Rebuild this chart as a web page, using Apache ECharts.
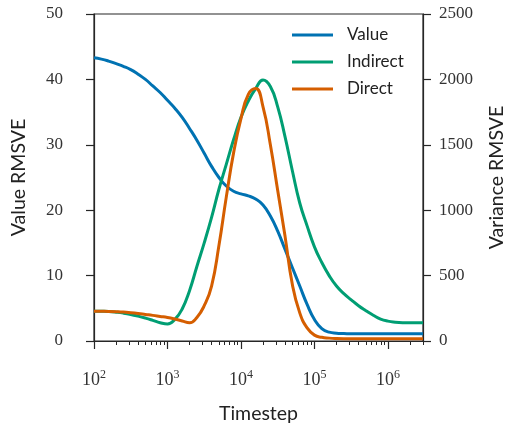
<!DOCTYPE html>
<html>
<head>
<meta charset="utf-8">
<script src="https://cdn.jsdelivr.net/npm/echarts@6/dist/echarts.min.js"></script>
<style>
html,body{margin:0;padding:0;background:#fff;}
#c{width:509px;height:424px;}
</style>
</head>
<body>
<div id="c"></div>
<script>
// Timesteps (x values, log axis)
const timesteps = [100, 126, 158, 200, 251, 316, 398, 501, 631, 794,
  1000, 1259, 1585, 1995, 2512, 3162, 3981, 5012, 6310, 7943,
  10000, 12589, 15849, 19953, 25119, 31623, 39811, 50119, 63096, 79433,
  100000, 125893, 158489, 199526, 251189, 316228, 398107, 501187, 630957, 794328,
  1000000, 1258925, 1584893, 1995262, 2511886, 3000000];

// Value RMSVE (left axis)
const valueSeries = [43.3, 43.1, 42.8, 42.4, 42.0, 41.5, 40.8, 40.0, 39.0, 38.0,
  36.8, 35.6, 34.2, 32.5, 30.7, 28.7, 26.7, 25.0, 23.7, 22.9,
  22.5, 22.2, 21.7, 20.8, 19.1, 16.8, 14.0, 11.2, 8.4, 5.6,
  3.3, 1.9, 1.35, 1.2, 1.15, 1.1, 1.1, 1.1, 1.1, 1.1,
  1.1, 1.1, 1.1, 1.1, 1.1, 1.1];

// Variance RMSVE (right axis)
const indirectSeries = [228, 227, 225, 220, 213, 203, 190, 175, 158, 140,
  130, 165, 245, 385, 570, 750, 945, 1160, 1350, 1540,
  1710, 1835, 1930, 1995, 1945, 1790, 1560, 1300, 1055, 880,
  720, 600, 500, 420, 362, 315, 270, 232, 197, 168,
  152, 144, 140, 139, 139, 139];

const directSeries = [228, 227, 226, 224, 221, 216, 210, 203, 196, 188,
  180, 168, 153, 140, 180, 270, 420, 730, 1100, 1440,
  1700, 1885, 1930, 1790, 1500, 1150, 800, 430, 215, 100,
  45, 28, 22, 19, 18, 18, 18, 18, 18, 18,
  18, 18, 18, 18, 18, 18];

const majorTicks = [100, 1000, 10000, 100000, 1000000];
const minorTicks = [200, 300, 400, 500, 600, 700, 800, 900,
  2000, 3000, 4000, 5000, 6000, 7000, 8000, 9000,
  20000, 30000, 40000, 50000, 60000, 70000, 80000, 90000,
  200000, 300000, 400000, 500000, 600000, 700000, 800000, 900000,
  2000000, 3000000];

function pairs(ys) { return timesteps.map((t, i) => [t, ys[i]]); }

const serif = 'Liberation Serif';
const sans = 'Lato';
const axisColor = '#262626';
const gridH = 327;

const chart = echarts.init(document.getElementById('c'), null, {renderer: 'canvas'});
chart.setOption({
  animation: false,
  backgroundColor: '#fff',
  grid: {left: 94, top: 14, width: 329, height: gridH, show: true, borderColor: axisColor, borderWidth: 1.2,
    backgroundColor: 'transparent', containLabel: false, outerBoundsMode: 'none'},
  legend: {
    orient: 'vertical', left: 292, top: 25, padding: 0,
    icon: 'rect', itemWidth: 41, itemHeight: 3, itemGap: 7,
    textStyle: {fontFamily: sans, fontSize: 17, color: '#222', padding: [0, 0, 0, 9], lineHeight: 20},
    data: ['Value', 'Indirect', 'Direct']
  },
  xAxis: [{
    type: 'log', logBase: 10, min: 100, max: 3000000, position: 'bottom',
    name: 'Timestep', nameLocation: 'middle', nameGap: 63,
    nameTextStyle: {fontFamily: sans, fontSize: 19.5, color: '#222'},
    axisLine: {show: true, lineStyle: {color: axisColor, width: 1.2}},
    axisTick: {show: true, inside: false, length: 8, customValues: majorTicks, lineStyle: {color: axisColor, width: 1.2}},
    axisLabel: {
      customValues: majorTicks, margin: 28, color: '#333',
      formatter: function (v) { return '{b|10}{s|' + Math.round(Math.log10(v)) + '}'; },
      rich: {
        b: {fontFamily: serif, fontSize: 18, color: '#333', lineHeight: 20, verticalAlign: 'bottom'},
        s: {fontFamily: serif, fontSize: 12, color: '#333', lineHeight: 20, verticalAlign: 'top', padding: [0, 0, 6, 0]}
      }
    },
    splitLine: {show: false}
  }, {
    type: 'log', logBase: 10, min: 100, max: 3000000, position: 'top', offset: -gridH,
    axisLine: {show: false},
    axisTick: {show: true, inside: true, length: 4, customValues: minorTicks, lineStyle: {color: axisColor, width: 1}},
    axisLabel: {show: false},
    splitLine: {show: false}
  }],
  yAxis: [{
    type: 'value', min: 0, max: 50, interval: 10, position: 'left',
    name: 'Value RMSVE', nameLocation: 'middle', nameGap: 65, nameRotate: 90,
    nameTextStyle: {fontFamily: sans, fontSize: 19.5, color: '#222'},
    axisLine: {show: true, lineStyle: {color: axisColor, width: 1.2}},
    axisTick: {show: true, inside: false, length: 8, lineStyle: {color: axisColor, width: 1.2}},
    axisLabel: {fontFamily: serif, fontSize: 17, color: '#333', margin: 31},
    splitLine: {show: false}
  }, {
    type: 'value', min: 0, max: 2500, interval: 500, position: 'right',
    name: 'Variance RMSVE', nameLocation: 'middle', nameGap: 64, nameRotate: 90,
    nameTextStyle: {fontFamily: sans, fontSize: 19.5, color: '#222'},
    axisLine: {show: true, lineStyle: {color: axisColor, width: 1.2}},
    axisTick: {show: true, inside: false, length: 8, lineStyle: {color: axisColor, width: 1.2}},
    axisLabel: {fontFamily: serif, fontSize: 17, color: '#333', margin: 16, formatter: function (v) { return String(v); }},
    splitLine: {show: false}
  }],
  series: [{
    name: 'Value', type: 'line', xAxisIndex: 0, yAxisIndex: 0,
    data: pairs(valueSeries), smooth: 0.5, symbol: 'none',
    lineStyle: {color: '#0072B2', width: 3}, itemStyle: {color: '#0072B2'}
  }, {
    name: 'Indirect', type: 'line', xAxisIndex: 0, yAxisIndex: 1,
    data: pairs(indirectSeries), smooth: 0.5, symbol: 'none',
    lineStyle: {color: '#009E73', width: 3}, itemStyle: {color: '#009E73'}
  }, {
    name: 'Direct', type: 'line', xAxisIndex: 0, yAxisIndex: 1,
    data: pairs(directSeries), smooth: 0.5, symbol: 'none',
    lineStyle: {color: '#D55E00', width: 3}, itemStyle: {color: '#D55E00'}
  }]
});
</script>
</body>
</html>
